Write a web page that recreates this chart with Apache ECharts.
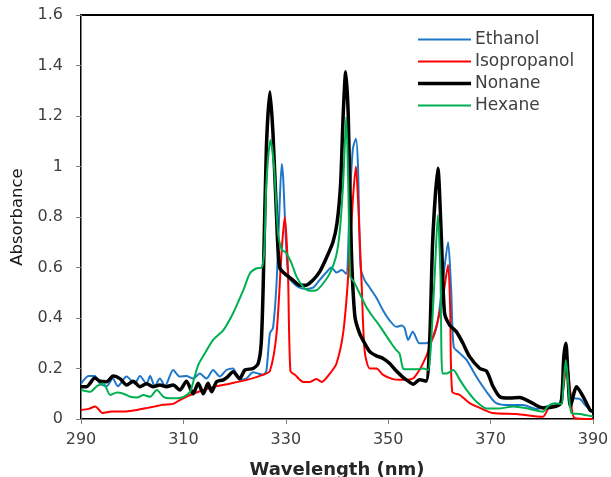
<!DOCTYPE html>
<html>
<head>
<meta charset="utf-8">
<script src="https://cdn.jsdelivr.net/npm/echarts@6/dist/echarts.min.js"></script>
<style>
html,body{margin:0;padding:0;background:#fff;}
#chart{width:611px;height:477px;}
</style>
</head>
<body>
<div id="chart"></div>
<script>
var seriesNames = ['Ethanol', 'Isopropanol', 'Nonane', 'Hexane'];
var xTicks = [290, 310, 330, 350, 370, 390];
var yTicks = [0, 0.2, 0.4, 0.6, 0.8, 1, 1.2, 1.4, 1.6];

var ethanol = [[290,0.14],[291.5,0.17],[292.7,0.17],[293.7,0.14],[295,0.13],[296.2,0.16],[297.2,0.13],[298.9,0.168],[300.5,0.14],[301.5,0.17],[302.8,0.14],[303.5,0.17],[304.4,0.13],[305.4,0.16],[306.4,0.13],[308,0.194],[309.3,0.168],[310.6,0.17],[311.9,0.16],[313.2,0.18],[314.5,0.16],[315.8,0.194],[317.1,0.168],[318.4,0.194],[319.7,0.2],[321,0.155],[322.3,0.16],[323.6,0.185],[324.6,0.18],[325.6,0.175],[326.2,0.19],[326.9,0.34],[327.5,0.36],[328.2,0.54],[328.7,0.80],[329.2,1.01],[329.5,0.95],[330.1,0.67],[330.6,0.56],[331.4,0.54],[332.7,0.52],[334,0.515],[335.3,0.52],[336.6,0.55],[337.9,0.58],[338.9,0.60],[339.9,0.58],[340.9,0.59],[341.8,0.575],[342.5,0.87],[343.1,1.07],[343.7,1.11],[344.1,1.0],[344.6,0.60],[345.4,0.55],[346.4,0.52],[347.7,0.48],[349,0.43],[350.3,0.39],[351.6,0.365],[352.6,0.37],[353.2,0.36],[353.9,0.313],[354.8,0.346],[356.1,0.30],[357.4,0.30],[358.7,0.32],[359.7,0.39],[360.7,0.55],[361.7,0.70],[362.3,0.51],[362.8,0.286],[364,0.26],[365.3,0.234],[367.2,0.168],[369.2,0.108],[371.1,0.063],[373.7,0.055],[376.3,0.055],[378.9,0.04],[380.9,0.05],[383.5,0.063],[384.4,0.17],[384.8,0.21],[385.4,0.12],[386.1,0.083],[387.4,0.08],[388.7,0.05],[390,0.03]];

var isopropanol = [[290,0.036],[291.5,0.04],[292.8,0.05],[294.2,0.024],[296,0.03],[298,0.03],[299.6,0.032],[301,0.036],[302.8,0.043],[304.5,0.05],[306,0.056],[308,0.06],[309.3,0.075],[311.9,0.10],[315.8,0.127],[319,0.14],[322.4,0.155],[325.5,0.175],[326.9,0.19],[328.2,0.34],[329.2,0.67],[329.8,0.80],[330.4,0.60],[330.9,0.19],[331.8,0.175],[333.4,0.147],[334.7,0.147],[336,0.158],[337,0.147],[338.6,0.18],[339.9,0.22],[341.2,0.34],[342.1,0.54],[343.1,0.87],[343.7,1.0],[344.1,0.87],[344.8,0.54],[345.4,0.27],[346.4,0.2],[347.7,0.2],[349,0.175],[350.9,0.158],[352.2,0.155],[354.8,0.16],[356.1,0.194],[357.4,0.247],[358.1,0.286],[359.4,0.366],[360.7,0.484],[361.7,0.61],[362.1,0.44],[362.5,0.108],[364,0.095],[365.9,0.063],[367.9,0.044],[370.4,0.024],[375,0.02],[380.2,0.009],[381.5,0.049],[383.5,0.055],[384.6,0.18],[385,0.21],[385.7,0.075],[386.4,0.004],[390,0.0]];

var nonane = [[290,0.128],[291.1,0.128],[292.7,0.162],[293.7,0.15],[295,0.148],[296.3,0.17],[297.6,0.16],[298.9,0.135],[300.2,0.15],[301.5,0.128],[302.8,0.14],[304.1,0.128],[305.4,0.135],[306.7,0.128],[308,0.135],[309.3,0.115],[310.6,0.15],[311.9,0.10],[312.9,0.142],[313.9,0.10],[314.8,0.142],[315.5,0.108],[316.5,0.148],[317.8,0.155],[318.7,0.168],[319.7,0.187],[321,0.16],[322,0.194],[323.6,0.2],[324.6,0.22],[325.2,0.3],[325.6,0.54],[326.2,1.07],[326.9,1.296],[327.5,1.13],[328.2,0.80],[328.8,0.60],[330.1,0.57],[331.4,0.55],[332.7,0.53],[334,0.53],[335.3,0.55],[336.6,0.583],[337.9,0.637],[339.2,0.70],[340,0.775],[340.7,0.93],[341.2,1.20],[341.7,1.375],[342.2,1.20],[342.8,0.67],[343.5,0.405],[344.4,0.34],[345.4,0.30],[346.4,0.267],[347.7,0.25],[349,0.24],[350.3,0.22],[351.6,0.19],[352.9,0.165],[353.9,0.15],[354.9,0.138],[356.1,0.155],[357.4,0.15],[358.1,0.31],[358.7,0.71],[359.7,0.993],[360.4,0.71],[361,0.42],[362,0.372],[363.3,0.346],[364.6,0.30],[365.9,0.247],[367.9,0.2],[369.2,0.19],[370.5,0.128],[371.8,0.088],[373.7,0.083],[375.7,0.085],[377.6,0.069],[380.2,0.044],[382.8,0.05],[383.8,0.065],[384.3,0.247],[384.7,0.30],[385.1,0.18],[385.6,0.05],[386.8,0.128],[388.1,0.088],[389.4,0.036],[390,0.03]];

var hexane = [[290,0.115],[291.8,0.108],[293.1,0.13],[294.4,0.141],[295.7,0.095],[297,0.105],[298.3,0.10],[299.6,0.088],[300.9,0.085],[302.2,0.095],[303.5,0.088],[304.8,0.115],[306.1,0.088],[307.4,0.082],[308.7,0.082],[310,0.088],[311.3,0.108],[312.2,0.168],[312.9,0.214],[314.2,0.26],[315.8,0.313],[317.8,0.352],[319.7,0.419],[321.7,0.51],[323,0.577],[324.3,0.597],[325.3,0.6],[325.8,0.67],[326.2,0.933],[327,1.105],[327.7,1.0],[328.5,0.735],[329.2,0.672],[330.1,0.657],[331.1,0.617],[332.1,0.564],[333.4,0.524],[334.7,0.508],[336,0.51],[337.3,0.537],[338.6,0.577],[339.8,0.643],[340.5,0.735],[341.2,0.933],[341.8,1.197],[342.2,0.93],[342.6,0.564],[343.3,0.544],[344.4,0.498],[345.7,0.445],[347,0.405],[348.3,0.37],[349.6,0.33],[350.6,0.30],[351.5,0.275],[352.2,0.26],[352.9,0.2],[353.6,0.197],[355.5,0.197],[356.8,0.2],[357.8,0.194],[358.4,0.313],[359.1,0.577],[359.7,0.808],[360.2,0.577],[360.6,0.18],[361.4,0.18],[362.7,0.194],[364,0.155],[365.3,0.115],[367.2,0.069],[369.2,0.042],[371.8,0.042],[374.4,0.05],[377.6,0.04],[380.2,0.029],[381.2,0.05],[382.5,0.062],[383.8,0.06],[384.3,0.155],[384.7,0.234],[385.1,0.155],[385.8,0.024],[387.4,0.02],[390,0.01]];

var colors = ['#1f77c9', '#ff0000', '#000000', '#00b050'];
var widths = [2, 2, 3.5, 2];
var dataSets = [ethanol, isopropanol, nonane, hexane];

var chart = echarts.init(document.getElementById('chart'));
var fontFam = '"DejaVu Sans", Verdana, sans-serif';
chart.setOption({
  animation: false,
  backgroundColor: '#fff',
  grid: { left: 81, right: 18, top: 15, bottom: 58, containLabel: false, outerBoundsMode: 'none',
          show: true, borderColor: '#000', borderWidth: 2, backgroundColor: 'transparent' },
  legend: {
    orient: 'vertical', left: 413, top: 26, itemWidth: 53, itemHeight: 16, itemGap: 5,
    symbolKeepAspect: true,
    textStyle: { fontFamily: fontFam, fontSize: 17, color: '#404040', padding: [0,0,0,-1] },
    data: seriesNames.map(function (n, i) {
      return { name: n, icon: 'path://M0,0h53v' + widths[i] + 'h-53z', itemStyle: { color: colors[i] } };
    })
  },
  xAxis: {
    type: 'value', min: xTicks[0], max: xTicks[xTicks.length-1], interval: 20,
    axisLine: { show: true, lineStyle: { color: '#808080', width: 1 } },
    axisTick: { show: true, inside: false, length: 5, lineStyle: { color: '#808080' } },
    axisLabel: { fontFamily: fontFam, fontSize: 16, color: '#404040', margin: 13 },
    splitLine: { show: false },
    name: 'Wavelength (nm)', nameLocation: 'middle', nameGap: 42,
    nameTextStyle: { fontFamily: fontFam, fontSize: 18, fontWeight: 'bold', color: '#262626' }
  },
  yAxis: {
    type: 'value', min: yTicks[0], max: yTicks[yTicks.length-1], interval: 0.2,
    axisLine: { show: true, lineStyle: { color: '#808080', width: 1 } },
    axisTick: { show: true, inside: false, length: 5, lineStyle: { color: '#808080' } },
    axisLabel: { fontFamily: fontFam, fontSize: 16, color: '#404040', margin: 18 },
    splitLine: { show: false },
    name: 'Absorbance', nameLocation: 'middle', nameGap: 50, nameRotate: 90,
    nameTextStyle: { fontFamily: fontFam, fontSize: 16.5, fontWeight: 'normal', color: '#1a1a1a' }
  },
  series: seriesNames.map(function (n, i) {
    return {
      name: n, type: 'line', data: dataSets[i], showSymbol: false, symbol: 'none',
      smooth: 0.25,
      lineStyle: { color: colors[i], width: widths[i] },
      itemStyle: { color: colors[i] },
      z: 2 + i
    };
  })
});
</script>
</body>
</html>
